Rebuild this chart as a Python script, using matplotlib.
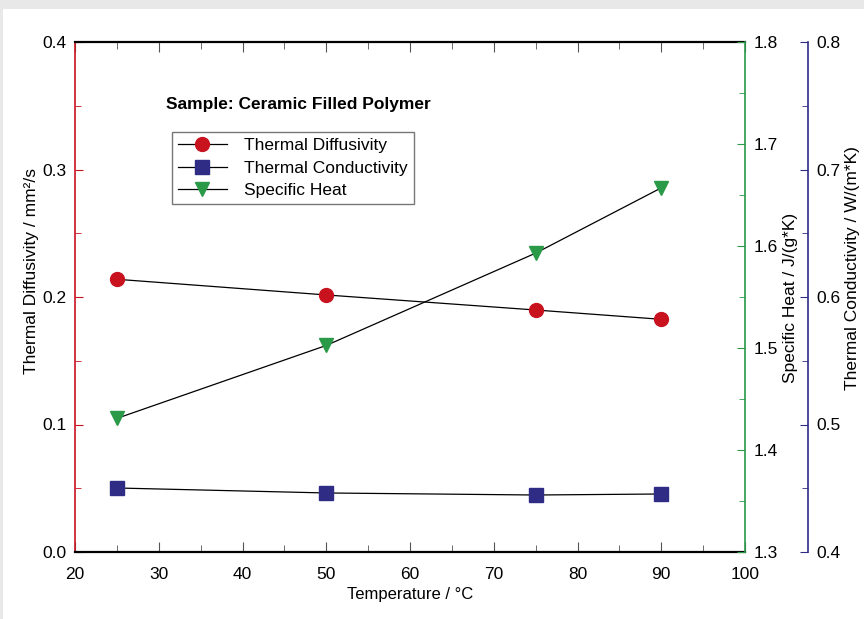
import matplotlib.pyplot as plt
from matplotlib.patches import Rectangle
from matplotlib.ticker import MultipleLocator

plt.rcParams['font.family'] = ['Liberation Sans', 'DejaVu Sans']

temperature = [25, 50, 75, 90]
diffusivity = [0.2139, 0.2016, 0.1898, 0.1825]
conductivity = [0.4502, 0.4463, 0.4447, 0.4455]
specific_heat = [1.431, 1.5025, 1.593, 1.657]

red = "#c8131f"
green = "#2a9a48"
blue = "#2f2c86"

fig = plt.figure(figsize=(8.64, 6.19), dpi=100)
fig.patch.set_facecolor("#e8e8e8")
fig.patches.append(Rectangle((3/864, 0), 1, 1 - 9/619, transform=fig.transFigure,
                             facecolor="white", edgecolor="none", zorder=-10))

ax = fig.add_axes([75/864, 1 - 552/619, 670/864, 510/619])
ax.patch.set_alpha(0)
ax2 = ax.twinx()
ax3 = ax.twinx()
ax3.spines["right"].set_position(("axes", (808 - 75) / 670))

ax.set_xlim(20, 100)
ax.set_ylim(0.0, 0.4)
ax2.set_ylim(1.3, 1.8)
ax3.set_ylim(0.4, 0.8)

for a in (ax2, ax3):
    for s in ("left", "top", "bottom"):
        a.spines[s].set_visible(False)
ax.spines["right"].set_visible(False)
ax.spines["left"].set_color(red)
ax.spines["top"].set_color("black")
ax.spines["bottom"].set_color("black")
ax.spines["top"].set_linewidth(1.6)
ax.spines["bottom"].set_linewidth(1.6)
ax.spines["left"].set_linewidth(1.2)
ax2.spines["right"].set_color(green)
ax2.spines["right"].set_linewidth(1.2)
ax3.spines["right"].set_color(blue)
ax3.spines["right"].set_linewidth(1.2)

ax.xaxis.set_major_locator(MultipleLocator(10))
ax.xaxis.set_minor_locator(MultipleLocator(5))
for a in (ax, ax2, ax3):
    a.yaxis.set_major_locator(MultipleLocator(0.1))
    a.yaxis.set_minor_locator(MultipleLocator(0.05))

ax.tick_params(axis="x", which="both", direction="in", top=True, labelsize=12.5,
               color="#555555", pad=10.5)
ax.tick_params(axis="x", which="major", length=7)
ax.tick_params(axis="x", which="minor", length=5)
for a, c in ((ax, red), (ax2, green), (ax3, blue)):
    a.tick_params(axis="y", which="both", direction="in", color=c, labelsize=12.5, pad=6)
    a.tick_params(axis="y", which="major", length=6)
    a.tick_params(axis="y", which="minor", length=4)

ax.set_yticks([0.0, 0.1, 0.2, 0.3, 0.4])
ax.set_yticklabels(["0.0", "0.1", "0.2", "0.3", "0.4"])
ax2.set_yticks([1.3, 1.4, 1.5, 1.6, 1.7, 1.8])
ax2.set_yticklabels(["1.3", "1.4", "1.5", "1.6", "1.7", "1.8"])
ax3.set_yticks([0.4, 0.5, 0.6, 0.7, 0.8])
ax3.set_yticklabels(["0.4", "0.5", "0.6", "0.7", "0.8"])

ax.set_xlabel("Temperature / °C", fontsize=12, labelpad=4)
ax.text((32 - 75) / 670, (552 - 271) / 510, "Thermal Diffusivity / mm²/s",
        transform=ax.transAxes, rotation=90, ha="center", va="center", fontsize=12.5)
ax.text((790 - 75) / 670, (552 - 298) / 510, "Specific Heat / J/(g*K)",
        transform=ax.transAxes, rotation=90, ha="center", va="center", fontsize=12.5)
ax.text((852 - 75) / 670, (552 - 268) / 510, "Thermal Conductivity / W/(m*K)",
        transform=ax.transAxes, rotation=90, ha="center", va="center", fontsize=12.5)

l1, = ax.plot(temperature, diffusivity, color="black", lw=0.9, marker="o",
              ms=10, mfc=red, mec=red, label="Thermal Diffusivity")
l3, = ax2.plot(temperature, specific_heat, color="black", lw=0.9, marker="v",
               ms=10, mfc=green, mec=green, label="Specific Heat")
l2, = ax3.plot(temperature, conductivity, color="black", lw=0.9, marker="s",
               ms=10, mfc=blue, mec=blue, label="Thermal Conductivity")

ax3.text((166 - 75) / 670, (552 - 104) / 510, "Sample: Ceramic Filled Polymer",
         transform=ax.transAxes, fontsize=12.5, fontweight="bold", va="center")

leg = ax3.legend(handles=[l1, l2, l3], loc="upper left",
                 bbox_to_anchor=((172 - 75) / 670, (552 - 132) / 510),
                 borderaxespad=0, fontsize=12.5, frameon=True, fancybox=False,
                 handlelength=2.8, labelspacing=0.42, borderpad=0.35,
                 handletextpad=1.0)
leg.get_frame().set_edgecolor("#555555")
leg.get_frame().set_linewidth(1.0)

fig.savefig("out.png", dpi=100, facecolor=fig.get_facecolor())
